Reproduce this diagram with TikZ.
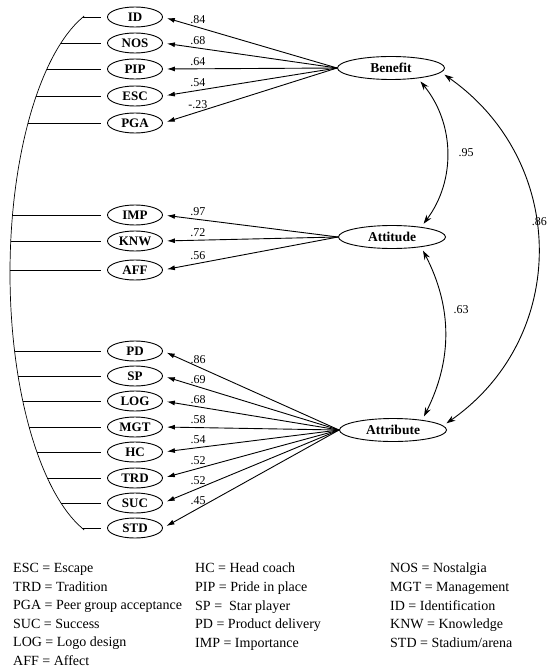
\documentclass[tikz,border=0pt]{standalone}
\usepackage{fontspec}
\setmainfont{Liberation Serif}
\usetikzlibrary{shapes.geometric, arrows.meta, positioning}

\begin{document}
\begin{tikzpicture}[x=1pt, y=-1pt,
    ind/.style={ellipse, draw, line width=0.9pt, minimum width=55pt, minimum height=20pt,
      inner sep=0pt, font=\fontsize{13}{13}\selectfont\bfseries},
    lat/.style={ellipse, draw, line width=0.9pt, minimum width=107pt, minimum height=23pt,
      inner sep=0pt, font=\fontsize{13.5}{13.5}\selectfont\bfseries},
    load/.style={line width=0.9pt, -{Latex[length=8pt, width=5pt]}, shorten >=4pt},
    cov/.style={line width=0.9pt, {Stealth[length=9pt, width=6pt]}-{Stealth[length=9pt, width=6pt]},
      shorten <=4pt, shorten >=4pt},
    coef/.style={font=\fontsize{12}{12}\selectfont, inner sep=1pt},
    err/.style={line width=0.7pt},
    key/.style={font=\fontsize{14}{18.6}\selectfont, align=left, anchor=north west, inner sep=0pt}]
  \useasboundingbox (0,0) rectangle (548,671);

  % latent factors
  \node[lat] (Benefit) at (391,68) {Benefit};
  \node[lat] (Attitude) at (392,237) {Attitude};
  \node[lat] (Attribute) at (393,430) {Attribute};

  % indicators, loadings and error lines
  \foreach \n/\y/\v/\f in {ID/17/.84/Benefit, NOS/43/.68/Benefit, PIP/69/.64/Benefit,
      ESC/96/.54/Benefit, PGA/123/-.23/Benefit,
      IMP/215/.97/Attitude, KNW/241/.72/Attitude, AFF/270/.56/Attitude,
      PD/351/.86/Attribute, SP/376/.69/Attribute, LOG/401/.68/Attribute, MGT/427/.58/Attribute,
      HC/452/.54/Attribute, TRD/478/.52/Attribute, SUC/503/.52/Attribute, STD/528/.45/Attribute}{
    \node[ind] (\n) at (135,\y) {\n};
    \draw[load] (\f.west) -- node[coef, pos=0.8, above=2pt] (c-\n) {\v} (\n.east);
    \coordinate (e-\n) at ({117-107*sqrt(1-((\y-273)/270)^2)},\y);
    \draw[err] (e-\n) -- ([xshift=-6pt]\n.west);
  }
  \draw[err] plot[variable=\t, domain=16:530, samples=80, smooth]
    ({117-107*sqrt(1-((\t-273)/270)^2)},\t);

  % correlations
  \draw[cov] (Benefit.-21) to[bend left=38] (Attitude.19);
  \node[coef] (r-ben-att) at (466,153) {.95};
  \draw[cov] (Attitude.-19) to[bend left=27] (Attribute.19);
  \node[coef] (r-att-atr) at (461,310) {.63};
  \draw[cov] (Benefit.-5) to[out=-35, in=35, looseness=1.12] (Attribute.5);
  \node[coef, anchor=east, inner sep=0pt] (r-ben-atr) at (547,222) {.86};

  % key
  \node[key] (key-a) at (13,563) {ESC = Escape\\TRD = Tradition\\PGA = Peer group acceptance\\
    SUC = Success\\LOG = Logo design\\AFF = Affect};
  \node[key] (key-b) at (195,563) {HC = Head coach\\PIP = Pride in place\\SP = \ Star player\\
    PD = Product delivery\\IMP = Importance};
  \node[key] (key-c) at (390,563) {NOS = Nostalgia\\MGT = Management\\ID = Identification\\
    KNW = Knowledge\\STD = Stadium/arena};
\end{tikzpicture}
\end{document}
